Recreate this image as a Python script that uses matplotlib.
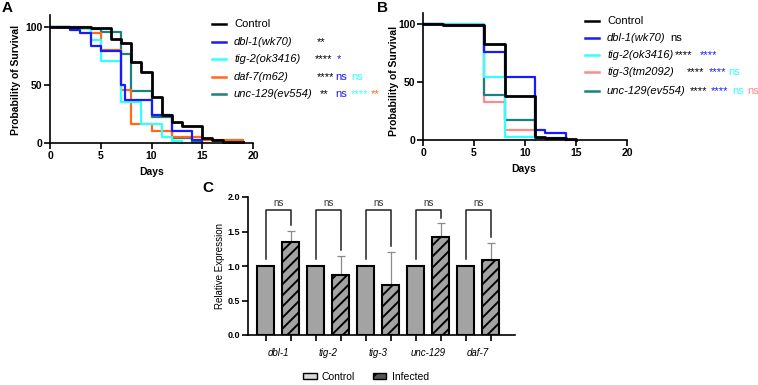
import numpy as np
import matplotlib
matplotlib.use("Agg")
import matplotlib.pyplot as plt
from matplotlib.lines import Line2D
from matplotlib.patches import Patch

plt.rcParams['font.family'] = ['Liberation Sans', 'DejaVu Sans']
plt.rcParams['hatch.linewidth'] = 1.4

W, H = 758, 385

# ---- panel A: survival, days / percent surviving after each step
a_control_t = [0, 4, 6, 7, 8, 9, 10, 11, 12, 13, 15, 16, 17, 19]
a_control_s = [100, 99, 90, 86, 70, 61, 40, 24, 18, 15, 4, 3, 1, 1]
a_dbl1_t = [0, 2, 3, 4, 5, 7, 7.35, 10, 12, 14, 15]
a_dbl1_s = [100, 97, 95, 84, 79, 50, 37, 24, 10, 3, 0]
a_tig2_t = [0, 3, 4, 5, 7, 9, 11, 12, 13]
a_tig2_s = [100, 98, 89, 71, 35, 16, 5, 2, 0]
a_daf7_t = [0, 4, 5, 7, 8, 10, 12, 15, 19]
a_daf7_s = [100, 95, 80, 46, 16, 10, 5, 3, 3]
a_unc129_t = [0, 2, 4, 5, 7, 8, 10, 12, 14, 15]
a_unc129_s = [100, 99, 98, 96, 77, 45, 22, 4, 1, 0]

# ---- panel B
b_control_t = [0, 2, 6, 8, 11, 12, 14, 15]
b_control_s = [100, 99, 83, 38, 3, 1.5, 0.5, 0]
b_dbl1_t = [0, 2, 6, 8, 11, 12, 14]
b_dbl1_s = [100, 99, 76, 54, 9, 6, 0]
b_tig2_t = [0, 6, 8, 11]
b_tig2_s = [100, 54, 3, 0]
b_tig3_t = [0, 2, 6, 8, 11]
b_tig3_s = [100, 98, 33, 9, 0]
b_unc129_t = [0, 2, 6, 8, 11, 12, 14]
b_unc129_s = [100, 99, 39, 17, 2, 2, 0]

# ---- panel C: qPCR
genes = ['dbl-1', 'tig-2', 'tig-3', 'unc-129', 'daf-7']
control_expr = [1, 1, 1, 1, 1]
infected_expr = [1.35, 0.87, 0.73, 1.42, 1.09]
infected_err = [0.16, 0.28, 0.48, 0.20, 0.25]

BLACK = 'black'
BLUE = '#1a1aff'
CYAN = '#33ffff'
ORANGE = '#ff6a1a'
TEAL = '#1a8080'
SALMON = '#ff8a8a'


def fx(x):
    return x / W


def fy(y):
    return 1 - y / H


fig = plt.figure(figsize=(W / 100, H / 100), dpi=100)


def style_axes(ax):
    for s in ['top', 'right']:
        ax.spines[s].set_visible(False)
    for s in ['left', 'bottom']:
        ax.spines[s].set_linewidth(1.2)
    ax.tick_params(width=1.2, length=4, pad=1.5, labelsize=7.5)
    for lab in ax.get_xticklabels() + ax.get_yticklabels():
        lab.set_fontweight('bold')


def manual_legend(x0, ys, colors, labels, annots):
    for y, c, lab in zip(ys, colors, labels):
        fig.add_artist(Line2D([fx(x0), fx(x0 + 14)], [fy(y), fy(y)], color=c, lw=1.8))
        fig.text(fx(x0 + 22), fy(y), lab, fontsize=8, va='center', ha='left',
                 style='normal' if lab == 'Control' else 'italic')
    for row, items in annots.items():
        for txt, c, x in items:
            fig.text(fx(x), fy(ys[row]), txt, color=c, fontsize=8, va='center', ha='left')


# ---------------- A
axA = fig.add_axes([fx(50), fy(143), fx(203), 128 / H])
seriesA = [(a_unc129_t, a_unc129_s, TEAL), (a_daf7_t, a_daf7_s, ORANGE),
           (a_tig2_t, a_tig2_s, CYAN), (a_dbl1_t, a_dbl1_s, BLUE),
           (a_control_t, a_control_s, BLACK)]
for t, s, c in seriesA:
    axA.step(t, s, where='post', color=c, lw=2.0 if c == BLACK else 1.6, clip_on=False)
axA.set_xlim(0, 20)
axA.set_ylim(0, 110.3)
axA.set_xticks([0, 5, 10, 15, 20])
axA.set_yticks([0, 50, 100])
style_axes(axA)
fig.text(fx(152), fy(172), 'Days', fontsize=7.5, fontweight='bold', ha='center', va='center')
fig.text(fx(16), fy(80), 'Probability of Survival', fontsize=7.5, fontweight='bold',
         rotation=90, ha='center', va='center')
fig.text(fx(2), fy(1), 'A', fontsize=11, fontweight='bold', ha='left', va='top')

manual_legend(212, [24, 41.7, 59.3, 76.7, 94.3],
              [BLACK, BLUE, CYAN, ORANGE, TEAL],
              ['Control', 'dbl-1(wk70)', 'tig-2(ok3416)', 'daf-7(m62)', 'unc-129(ev554)'],
              {1: [('**', BLACK, 317)],
               2: [('****', BLACK, 315), ('*', BLUE, 337)],
               3: [('****', BLACK, 317), ('ns', BLUE, 335), ('ns', CYAN, 351)],
               4: [('**', BLACK, 320), ('ns', BLUE, 335), ('****', CYAN, 351), ('**', ORANGE, 371)]})

# ---------------- B
axB = fig.add_axes([fx(423), fy(140), 204 / W, 127 / H])
seriesB = [(b_tig3_t, b_tig3_s, SALMON), (b_unc129_t, b_unc129_s, TEAL),
           (b_tig2_t, b_tig2_s, CYAN), (b_dbl1_t, b_dbl1_s, BLUE),
           (b_control_t, b_control_s, BLACK)]
for t, s, c in seriesB:
    axB.step(t, s, where='post', color=c, lw=2.0 if c == BLACK else 1.6, clip_on=False)
axB.set_xlim(0, 20)
axB.set_ylim(0, 109.5)
axB.set_xticks([0, 5, 10, 15, 20])
axB.set_yticks([0, 50, 100])
style_axes(axB)
fig.text(fx(524), fy(169), 'Days', fontsize=7.5, fontweight='bold', ha='center', va='center')
fig.text(fx(394), fy(81), 'Probability of Survival', fontsize=7.5, fontweight='bold',
         rotation=90, ha='center', va='center')
fig.text(fx(377), fy(1), 'B', fontsize=11, fontweight='bold', ha='left', va='top')

manual_legend(585, [20.7, 38.3, 55, 72.3, 90.7],
              [BLACK, BLUE, CYAN, SALMON, TEAL],
              ['Control', 'dbl-1(wk70)', 'tig-2(ok3416)', 'tig-3(tm2092)', 'unc-129(ev554)'],
              {1: [('ns', BLACK, 670)],
               2: [('****', BLACK, 675), ('****', BLUE, 700)],
               3: [('****', BLACK, 687), ('****', BLUE, 709), ('ns', CYAN, 728)],
               4: [('****', BLACK, 690), ('****', BLUE, 711), ('ns', CYAN, 732), ('ns', SALMON, 747)]})

# ---------------- C
axC = fig.add_axes([fx(248), fy(335), 267 / W, 138 / H])
g = np.arange(len(genes))
xc = g - 0.25
xi = g + 0.25
bw = 0.33
axC.bar(xc, control_expr, bw, color='#a3a3a3', edgecolor='black', lw=1.5, zorder=3)
axC.bar(xi, infected_expr, bw, color='#a3a3a3', edgecolor='black', lw=1.5, hatch='///', zorder=3)
axC.errorbar(xi, infected_expr, yerr=[np.zeros(len(genes)), infected_err], fmt='none',
             ecolor='#8a8a8a', elinewidth=0.9, capsize=3, capthick=0.9, zorder=2)
top = 1.81
for k in range(len(genes)):
    right_low = infected_expr[k] + infected_err[k] + 0.08
    left_low = control_expr[k] + 0.1
    axC.plot([xc[k], xc[k], xi[k], xi[k]], [left_low, top, top, right_low],
             color='#222222', lw=1.1, clip_on=False)
    axC.text(g[k], 1.92, 'ns', fontsize=7, ha='center', va='center', color='#333333')
axC.set_xlim(-0.604, 4.736)
axC.set_ylim(0, 2.0)
axC.set_yticks([0, 0.5, 1.0, 1.5, 2.0])
axC.set_yticklabels(['0.0', '0.5', '1.0', '1.5', '2.0'])
axC.set_xticks(np.concatenate([xc, xi]))
axC.set_xticklabels([])
axC.set_xticks(g, minor=True)
axC.set_xticklabels(genes, minor=True, style='italic', fontsize=7)
axC.tick_params(axis='x', which='minor', length=0, pad=9)
style_axes(axC)
axC.tick_params(axis='y', labelsize=6.5)
axC.set_ylabel('Relative Expression', fontsize=7)
axC.yaxis.set_label_coords(-0.085, 0.5)
fig.text(fx(202), fy(181), 'C', fontsize=11, fontweight='bold', ha='left', va='top')

handles = [Patch(facecolor='#d9d9d9', edgecolor='black', lw=1.0),
           Patch(facecolor='#555555', edgecolor='black', lw=1.0, hatch='//')]
axC.legend(handles, ['Control', 'Infected'], ncol=2, frameon=False, fontsize=7.5,
           loc='center', bbox_to_anchor=(fx(366), fy(377)), bbox_transform=fig.transFigure,
           handlelength=1.3, handleheight=0.55, columnspacing=1.7, handletextpad=0.5)

fig.savefig('out.png', dpi=100)
